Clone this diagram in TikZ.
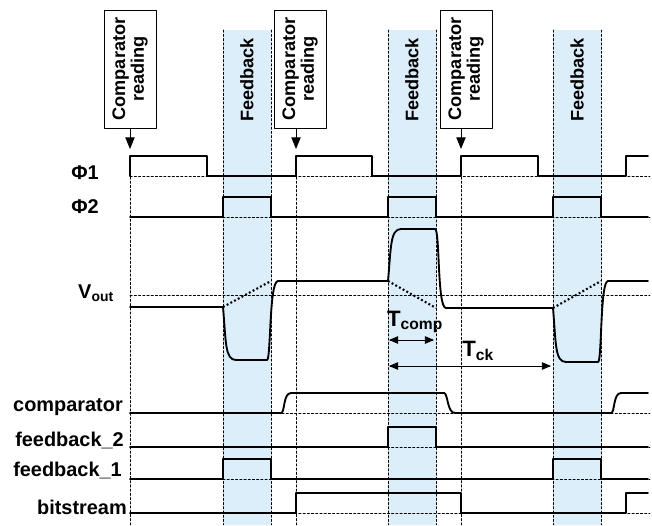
\documentclass[tikz,border=0pt]{standalone}
\usepackage{fontspec}
\setmainfont{Liberation Sans}
\usepackage{xcolor}
\usetikzlibrary{arrows,arrows.meta}
\definecolor{fbblue}{RGB}{221,238,251}
\tikzset{
  sig/.style={line width=1.6pt},
  guide/.style={line width=0.5pt,dash pattern=on 2pt off 1.6pt},
  ideal/.style={line width=1.8pt,line cap=butt,dash pattern=on 1.6pt off 2pt},
  lbl/.style={anchor=east,inner sep=0pt,font=\fontsize{17}{19}\selectfont\bfseries},
  readbox/.style={draw,line width=0.6pt,rotate=90,align=center,minimum width=3.54cm,minimum height=1.56cm,inner sep=1pt,
    font=\fontsize{15.5}{16}\selectfont\bfseries},
  fblabel/.style={rotate=90,inner sep=0pt,font=\fontsize{15.5}{16}\selectfont\bfseries},
  timelbl/.style={inner sep=0pt,font=\fontsize{19}{20}\selectfont\bfseries},
  readarrow/.style={-{Triangle[width=8pt,length=10pt]},line width=0.8pt},
}
\begin{document}
\begin{tikzpicture}[line cap=round,line join=round,>=triangle 45,x=0.03cm,y=-0.03cm]
\useasboundingbox (0,0) rectangle (652,525);
% feedback windows
\fill[fbblue] (223,30) rectangle (271,525);
\fill[fbblue] (388,30) rectangle (436,525);
\fill[fbblue] (553,30) rectangle (601,525);
\foreach \x in {223,271,388,436,553,601}
  \draw[guide] (\x,30) -- (\x,525);
\foreach \x in {130,296,461}
  \draw[guide] (\x,160) -- (\x,525);
% baselines
\foreach \y in {176,217,295,413,447,479,513}
  \draw[guide] (130,\y) -- (650,\y);
% phi1
\draw[sig] (130,176)--(130,156)--(207,156)--(207,176)--(296,176)--(296,156)--(372,156)--(372,176)--(461,176)--(461,156)--(538,156)--(538,176)--(626,176)--(626,156)--(648,156);
% phi2
\draw[sig] (130,217)--(223,217)--(223,197)--(271,197)--(271,217)--(388,217)--(388,197)--(436,197)--(436,217)--(553,217)--(553,197)--(601,197)--(601,217)--(648,217);
% vout
\draw[sig] (130,307)--(223,307) .. controls (226,342) and (225,360) .. (236,360) -- (267,360)
  .. controls (271,360) and (269,281) .. (278,281) -- (388,281)
  .. controls (391,249) and (390,229) .. (401,229) -- (435,229)
  .. controls (440,229) and (437,308) .. (446,308) -- (553,308)
  .. controls (556,344) and (555,362) .. (566,362) -- (598,362)
  .. controls (602,362) and (600,281) .. (608,281) -- (648,281);
\draw[ideal] (223,307) -- (271,281);
\draw[ideal] (388,281) -- (436,308);
\draw[ideal] (553,308) -- (601,281);
% comparator
\draw[sig] (130,413)--(281,413) .. controls (285,413) and (283,393) .. (291,393) -- (444,393)
  .. controls (448,393) and (447,413) .. (455,413) -- (611,413)
  .. controls (615,413) and (613,393) .. (621,393) -- (648,393);
% feedback_2
\draw[sig] (130,447)--(388,447)--(388,427)--(436,427)--(436,447)--(648,447);
% feedback_1
\draw[sig] (130,479)--(223,479)--(223,459)--(271,459)--(271,479)--(553,479)--(553,459)--(601,459)--(601,479)--(648,479);
% bitstream
\draw[sig] (130,513)--(296,513)--(296,493)--(461,493)--(461,513)--(626,513)--(626,493)--(648,493);
% signal names
\node[lbl] (phione) at (99,173) {Φ1};
\node[lbl] (phitwo) at (99,207) {Φ2};
\node[lbl] (vout) at (114,293) {V\textsubscript{out}};
\node[lbl] (comp) at (123,407) {comparator};
\node[lbl] (fbtwo) at (124,440) {feedback\_2};
\node[lbl] (fbone) at (122,470) {feedback\_1};
\node[lbl] (bits) at (127,507) {bitstream};
% comparator reading boxes
\node[readbox] (readA) at (130,69) {Comparator\\reading};
\node[readbox] (readB) at (300,69) {Comparator\\reading};
\node[readbox] (readC) at (466,69) {Comparator\\reading};
\coordinate (tipA) at (130,149);
\coordinate (tipB) at (296,149);
\coordinate (tipC) at (461,149);
\draw[readarrow] (readA.west -| tipA) -- (tipA);
\draw[readarrow] (readB.west -| tipB) -- (tipB);
\draw[readarrow] (readC.west -| tipC) -- (tipC);
\node[fblabel] (fbA) at (247,80) {Feedback};
\node[fblabel] (fbB) at (412,80) {Feedback};
\node[fblabel] (fbC) at (577,80) {Feedback};
% times
\coordinate (tcompL) at (389,340);
\coordinate (tcompR) at (434,340);
\coordinate (tckL) at (389,366);
\coordinate (tckR) at (551,366);
\draw[<->,line width=0.8pt] (tcompL) -- (tcompR);
\draw[<->,line width=0.8pt] (tckL) -- (tckR);
\node[timelbl] (tcomp) at (415,322) {T\textsubscript{comp}};
\node[timelbl] (tck) at (478,351) {T\textsubscript{ck}};
\end{tikzpicture}
\end{document}
